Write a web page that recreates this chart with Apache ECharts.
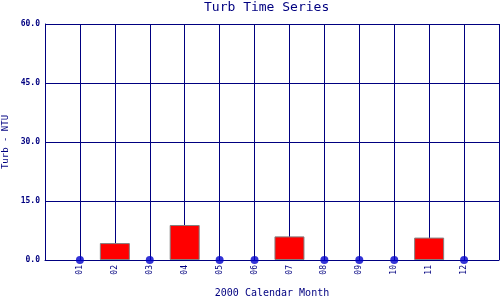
<!DOCTYPE html>
<html>
<head>
<meta charset="utf-8">
<script src="https://cdn.jsdelivr.net/npm/echarts@6/dist/echarts.min.js"></script>
<style>
html,body{margin:0;padding:0;background:#fff;}
#c{width:500px;height:300px;}
</style>
</head>
<body>
<div id="c"></div>
<script>
var months = ['01','02','03','04','05','06','07','08','09','10','11','12'];
var turb = [0, 4.3, 0, 8.9, 0, 0, 6.0, 0, 0, 0, 5.7, 0];
var yTicks = [0, 15, 60];

var barData = [];
var dotData = [];
months.forEach(function (m, i) {
  if (turb[i] > 0) barData.push([i + 1, turb[i]]);
  else dotData.push([i + 1, turb[i]]);
});

var navy = '#000080';
var font = 'DejaVu Sans Mono';
var chart = echarts.init(document.getElementById('c'), null, {renderer: 'canvas'});
chart.setOption({
  animation: false,
  backgroundColor: '#ffffff',
  title: {
    text: 'Turb Time Series',
    left: 204,
    top: 1,
    padding: 0,
    textStyle: {fontFamily: font, fontSize: 13, fontWeight: 'normal', color: navy}
  },
  grid: {left: 45, right: 1, top: 24, bottom: 40, containLabel: false, outerBoundsMode: 'none'},
  xAxis: {
    type: 'value',
    min: 0,
    max: months.length + 1,
    interval: 1,
    name: '2000 Calendar Month',
    nameLocation: 'middle',
    nameGap: 28,
    nameTextStyle: {fontFamily: font, fontSize: 10, color: navy},
    axisLine: {show: true, lineStyle: {color: navy, width: 1}},
    axisTick: {show: false},
    splitLine: {show: true, lineStyle: {color: navy, width: 1}},
    axisLabel: {
      rotate: 90,
      margin: 5,
      fontFamily: font,
      fontSize: 8,
      color: navy,
      showMinLabel: true,
      showMaxLabel: true,
      formatter: function (v) { return months[v - 1] || ''; }
    }
  },
  yAxis: {
    type: 'value',
    min: yTicks[0],
    max: yTicks[2],
    interval: yTicks[1],
    name: 'Turb - NTU',
    nameLocation: 'middle',
    nameGap: 24,
    nameTextStyle: {fontFamily: font, fontSize: 9, color: navy},
    axisLine: {show: true, lineStyle: {color: navy, width: 1}},
    axisTick: {show: false},
    splitLine: {show: true, lineStyle: {color: navy, width: 1}},
    axisLabel: {
      margin: 5,
      fontFamily: font,
      fontSize: 8,
      fontWeight: 'bold',
      color: navy,
      formatter: function (v) { return v.toFixed(1); }
    }
  },
  series: [
    {
      type: 'bar',
      data: barData,
      barWidth: 30,
      itemStyle: {color: '#ff0000', borderColor: '#808080', borderWidth: 1}
    },
    {
      type: 'scatter',
      data: dotData,
      symbol: 'circle',
      symbolSize: 8,
      itemStyle: {color: '#0000cc'},
      z: 5
    }
  ]
});
</script>
</body>
</html>
